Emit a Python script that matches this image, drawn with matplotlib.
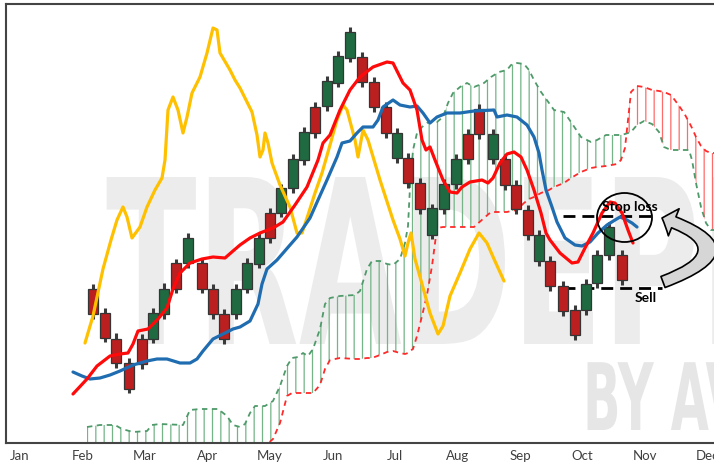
import numpy as np
import matplotlib
matplotlib.use('Agg')
import matplotlib.pyplot as plt
from matplotlib.patches import Ellipse, FancyArrowPatch, PathPatch
from matplotlib.textpath import TextPath
from matplotlib.font_manager import FontProperties
from matplotlib.transforms import Affine2D

# x in days from Jan (one month ~ 31.25), y in price points
months = ['Jan', 'Feb', 'Mar', 'Apr', 'May', 'Jun', 'Jul', 'Aug', 'Sep', 'Oct', 'Nov', 'Dec']

candle_x = [36.5, 42.5, 48, 54.5, 61, 66.5, 72, 78, 84, 91, 96.5, 102, 108, 113.5, 119.25, 125,
            130.5, 136.5, 142, 147.5, 153.5, 159, 164.75, 171, 177, 182.75, 188.25, 194, 200, 206,
            212, 218, 223.75, 229.5, 236.5, 242.5, 248, 254, 259.5, 265, 271.5, 277.5, 283, 288.5,
            294.5, 301]
candle_open = [154, 130, 104, 80, 104, 104, 129, 180, 180, 180, 154, 129, 129, 154, 179, 230, 230,
               255, 283, 336, 337, 360, 385, 386, 361, 336, 285, 285, 260, 208, 234, 259, 309, 334,
               284, 284, 258, 233, 182, 182, 157, 133, 133, 160, 188, 188]
candle_close = [129, 105, 80, 54, 79, 130, 154, 154, 205, 154, 129, 104, 154, 180, 205, 205, 255,
                284, 311, 310, 362, 387, 411, 361, 336, 310, 310, 260, 234, 235, 259, 284, 284, 309,
                309, 258, 234, 208, 208, 157, 132, 108, 159, 188, 216, 163]
candle_high = [159, 135, 110, 85, 109, 135, 160, 184, 210, 185, 159, 134, 159, 185, 210, 235, 259,
               289, 316, 341, 367, 392, 416, 391, 366, 341, 315, 290, 265, 239, 264, 289, 314, 339,
               314, 289, 263, 238, 213, 187, 162, 138, 164, 193, 221, 193]
candle_low = [124, 101, 75, 50, 74, 100, 124, 150, 175, 150, 124, 99, 124, 150, 175, 200, 226, 250,
              278, 305, 332, 356, 381, 356, 331, 305, 280, 255, 229, 204, 229, 254, 279, 304, 279,
              253, 229, 203, 177, 152, 127, 103, 128, 155, 183, 158]

yellow_x = [32.5, 36.5, 41.5, 45.5, 48.5, 51.5, 53.5, 56, 60, 63.5, 67.5, 71, 72.5, 74, 76.5, 79,
            81.5, 83.5, 86, 90, 93.5, 96.5, 98.5, 100, 105, 107.5, 110, 112.5, 116, 118.5, 120,
            121.5, 122.5, 124, 126, 130, 135, 138.5, 141, 144, 147.5, 151, 155, 158.5, 161.5,
            163.5, 167.5, 169, 171.5, 174, 180, 186.5, 190, 192.5, 194, 195.5, 197.5, 201, 205,
            209, 211.5, 215, 220, 225, 229.5, 233.5, 237, 242]
yellow_y = [100, 127, 174, 203, 223, 236, 226, 205, 216, 236, 253, 265, 283, 333, 346, 333, 310,
            326, 350, 366, 390, 415, 413, 390, 373, 363, 355, 345, 331, 308, 286, 293, 310, 300,
            280, 258, 236, 210, 210, 228, 250, 270, 298, 323, 338, 333, 303, 286, 313, 303, 263,
            223, 204, 187, 200, 210, 184, 159, 130, 109, 117, 147, 170, 194, 210, 200, 184, 162]

red_x = [26.5, 33.5, 38.5, 45, 50, 54, 56.5, 59, 64, 69, 73.5, 76.5, 80, 85, 91, 96.5, 102.5,
         106.5, 110, 115, 120, 126.5, 131.5, 137.5, 143.5, 149, 151.5, 155, 160, 165, 170, 176.5,
         183.5, 186.5, 189, 191.5, 195, 198.5, 201, 203, 205, 207.5, 211.5, 215, 218.5, 221, 225,
         231, 234, 236.5, 240, 243.5, 247, 250.5, 253.5, 257, 260.5, 263, 265, 270, 276, 279,
         282.5, 286.5, 291, 295, 297.5, 301, 304, 306.5]
red_y = [49, 64, 77, 87, 89, 90, 99, 112, 114, 124, 135, 154, 170, 180, 184, 186, 185, 192, 198,
         205, 210, 215, 221, 238, 256, 283, 300, 308, 333, 353, 366, 376, 381, 380, 370, 360, 353,
         333, 303, 293, 296, 283, 263, 251, 250, 256, 261, 263, 260, 265, 280, 289, 291, 286, 273,
         253, 230, 210, 203, 190, 180, 181, 195, 210, 230, 241, 240, 230, 213, 200]

blue_x = [26.5, 31, 35, 40, 45, 50, 56.5, 63.5, 68.5, 73.5, 80, 85, 88.5, 91.5, 96.5, 101.5,
          106.5, 110, 115, 119, 121, 123.5, 128.5, 135, 138.5, 145, 149, 153.5, 158.5, 161, 165,
          168.5, 171.5, 176.5, 179, 181.5, 186.5, 190, 195, 198.5, 201.5, 205, 208.5, 213.5, 220,
          227, 237, 238.5, 243.5, 248.5, 253.5, 257, 259.5, 261, 263, 266, 268.5, 272.5, 277.5,
          281, 285, 289, 293.5, 297.5, 300, 302.5, 306, 308.5]
blue_y = [71, 67, 64, 65, 68, 72, 78, 82, 84, 84, 80, 80, 84, 92, 104, 109, 114, 116, 122, 139,
          159, 174, 183, 198, 206, 225, 243, 263, 286, 300, 302, 310, 316, 316, 323, 336, 343, 338,
          336, 337, 330, 320, 326, 330, 330, 332, 333, 326, 328, 326, 318, 306, 290, 273, 253, 236,
          221, 205, 198, 197, 201, 210, 218, 223, 226, 224, 220, 216]

cloud_x = [33.5, 40, 47.5, 51, 56.5, 63.5, 66, 70, 81.5, 85, 90, 99, 103.5, 106.5, 110, 112.5, 115,
           117.5, 122.5, 126.5, 130, 133.5, 136, 139, 141.5, 144, 146.5, 150, 152.5, 155, 160,
           167.5, 170, 173.5, 176, 180, 183.5, 186.5, 190, 192.5, 194, 195, 196.5, 198.5, 201,
           203.5, 206, 208.5, 211.5, 214, 216.5, 220, 223.5, 227, 232, 235.5, 239.5, 243.5, 245.5,
           248.5, 252, 254.5, 257, 260.5, 264.5, 267, 272, 275.5, 280.5, 285.5, 288.5, 293, 298.5,
           300.5, 302.5, 304, 305.5, 308.5, 312, 316, 319.5, 322, 325.5, 328.5, 332, 334.5, 336,
           338, 340.5, 343, 345.5, 347]
span_a = [16, 18, 18, 14, 11, 12, 18, 19, 18, 33, 34, 34, 27, 18, 16, 19, 30, 37, 37, 42, 57, 77,
          85, 86, 90, 87, 94, 114, 139, 145, 147, 148, 152, 174, 182, 182, 179, 178, 184, 200, 217,
          256, 293, 310, 316, 320, 321, 321, 326, 340, 350, 356, 360, 356, 360, 366, 371, 373, 378,
          380, 379, 373, 363, 351, 340, 333, 331, 321, 306, 301, 303, 308, 308, 308, 309, 310, 311,
          318, 322, 319, 311, 296, 293, 293, 293, 293, 283, 260, 236, 220, 213, 213]
span_b = [-77, -70, -65, -62, -58, -52, -50, -47, -40, -37, -33, -27, -24, -20, -16, -13, -10, -8,
          -3, 4, 20, 47, 50, 50, 50, 50, 50, 58, 74, 83, 85, 84, 84, 85, 85, 88, 91, 92, 90, 89, 90,
          92, 94, 107, 127, 148, 177, 215, 216, 216, 216, 216, 216, 216, 225, 231, 231, 231, 232,
          233, 240, 244, 246, 250, 253, 256, 260, 265, 271, 275, 276, 277, 279, 283, 295, 323, 351,
          357, 356, 353, 352, 351, 348, 340, 330, 321, 315, 306, 297, 292, 290, 290]

stop_loss = 227
sell_level = 155

plt.rcParams['hatch.linewidth'] = 0.9
fig = plt.figure(figsize=(7.14, 4.66), dpi=100)
ax = fig.add_axes([6 / 714, 23 / 466, 708 / 714, 439 / 466])
ax.set_xlim(-7, 347)
ax.set_ylim(0, 439)

# watermark
fp = FontProperties(family='DejaVu Sans', weight='bold')
wm1 = TextPath((0, 0), 'TRADEPEDIA', size=229, prop=fp)
tr1 = Affine2D().scale(0.58, 1).translate(106, 122).scale(1 / 714, 1 / 466) + fig.transFigure
ax.add_patch(PathPatch(wm1, transform=tr1, fc='#ececec', ec='none', zorder=0.5))
wm2 = TextPath((0, 0), 'BY AVI', size=93, prop=fp)
tr2 = Affine2D().scale(0.53, 1).translate(583, 36).scale(1 / 714, 1 / 466) + fig.transFigure
ax.add_patch(PathPatch(wm2, transform=tr2, fc='#e6e6e6', ec='none', zorder=0.5))

# cloud
a = np.array(span_a)
b = np.array(span_b)
ax.fill_between(cloud_x, a, b, where=a >= b, interpolate=True, facecolor='none',
                edgecolor='#74b487', hatch='||', linewidth=0, zorder=1)
ax.fill_between(cloud_x, a, b, where=a < b, interpolate=True, facecolor='none',
                edgecolor='#ff6a6a', hatch='||', linewidth=0, zorder=1)
ax.plot(cloud_x, span_a, color='#4f9a6a', lw=1.3, ls=(0, (3, 2.5)), zorder=2)
ax.plot(cloud_x, span_b, color='#ff2a2a', lw=1.3, ls=(0, (3, 2.5)), zorder=2)

# annotation levels (behind candles)
ax.hlines(sell_level, 271.5, 321, color='black', lw=2, linestyles=(0, (4.3, 2.5)), zorder=2.5)
ax.hlines(stop_loss, 271.5, 317, color='black', lw=2, linestyles=(0, (4.3, 2.5)), zorder=2.5)

# candles
o = np.array(candle_open)
c = np.array(candle_close)
colors = np.where(c >= o, '#1f6a40', '#bb1f1f')
ax.vlines(candle_x, candle_low, candle_high, color='#3a3a3a', lw=2.2, zorder=3)
ax.bar(candle_x, np.abs(c - o), bottom=np.minimum(o, c), width=5, color=colors,
       edgecolor='#353535', linewidth=0.9, zorder=4)

# lines
ax.plot(yellow_x, yellow_y, color='#ffc000', lw=2.3, zorder=5, solid_capstyle='round')
ax.plot(blue_x, blue_y, color='#1f6db0', lw=2.3, zorder=5, solid_capstyle='round')
ax.plot(red_x, red_y, color='#ff0a0a', lw=2.3, zorder=5, solid_capstyle='round')

# stop loss / sell markup
ax.add_patch(Ellipse((302.25, 225.5), 27.5, 49, fill=False, ec='black', lw=1.3, zorder=6))
ax.text(305, 236, 'Stop loss', family='Lato', weight='bold', fontsize=10, ha='center',
        va='center', zorder=7)
ax.text(313, 145, 'Sell', family='Lato', weight='bold', fontsize=10, ha='center', va='center',
        zorder=7)
arrow = FancyArrowPatch((321.5, 161), (321, 225), connectionstyle='arc3,rad=1.4',
                        arrowstyle='simple,head_length=9,head_width=21,tail_width=8.5',
                        mutation_scale=1, shrinkA=0, shrinkB=0, fc='#d6d6d6', ec='black',
                        lw=1.2, zorder=6, clip_on=False)
ax.add_patch(arrow)

ax.set_xticks(np.arange(12) * 31.25)
ax.set_xticklabels(months, family='Lato', fontsize=9.5, color='#404040')
ax.set_yticks([])
ax.tick_params(axis='x', length=0, pad=5)
for s in ['left', 'top', 'bottom']:
    ax.spines[s].set_color('#444444')
    ax.spines[s].set_linewidth(1.5)
ax.spines['right'].set_visible(False)

fig.savefig('out.png', dpi=100)
